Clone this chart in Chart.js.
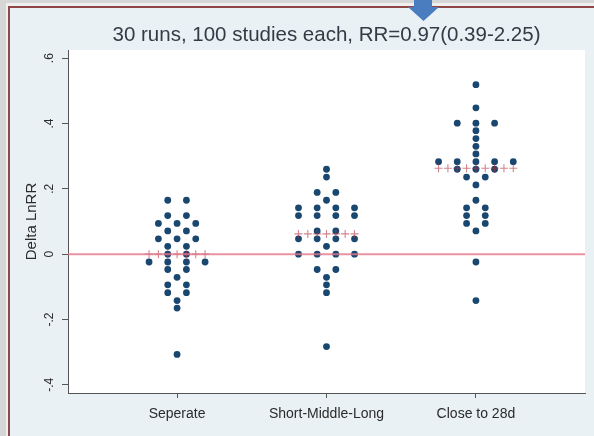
<!DOCTYPE html>
<html>
<head>
<meta charset="utf-8">
<script src="https://cdn.jsdelivr.net/npm/chart.js@4/dist/chart.umd.min.js"></script>
<style>
  html, body { margin: 0; padding: 0; background: #d7d7d7; }
  #wrap { width: 594px; height: 436px; }
</style>
</head>
<body>
<div id="wrap"><canvas id="chart" width="594" height="436"></canvas></div>
<script>
// Values (dots on the same row share a value)
const categories = ['Seperate', 'Short-Middle-Long', 'Close to 28d'];

const seperate = [
  0.165, 0.165, 0.118, 0.118, 0.094, 0.094, 0.094, 0.071, 0.071,
  0.047, 0.047, 0.047, 0.024, 0.024, 0, 0, -0.024, -0.024, -0.024, -0.024,
  -0.047, -0.047, -0.071, -0.094, -0.094, -0.118, -0.118, -0.142, -0.165, -0.307,
];
const shortMiddleLong = [
  0.260, 0.236, 0.189, 0.189, 0.165, 0.142, 0.142, 0.142, 0.142,
  0.118, 0.118, 0.118, 0.118, 0.071, 0.071, 0.047, 0.047, 0.047, 0.047,
  0.024, 0, 0, 0, 0, -0.047, -0.047, -0.071, -0.094, -0.118, -0.283,
];
const closeTo28d = [
  0.519, 0.448, 0.401, 0.401, 0.401, 0.378, 0.354, 0.330, 0.307,
  0.283, 0.283, 0.283, 0.283, 0.283, 0.260, 0.260, 0.260, 0.236, 0.236,
  0.212, 0.165, 0.142, 0.142, 0.118, 0.118, 0.094, 0.094, 0.071, -0.024, -0.142,
];
const groupMeans = [0.0, 0.062, 0.263];

const yTickValues = [-0.4, -0.2, 0, 0.2, 0.4, 0.6];
const chartTitle = '30 runs, 100 studies each, RR=0.97(0.39-2.25)';
const yAxisTitle = 'Delta LnRR';

const groups = [seperate, shortMiddleLong, closeTo28d];
const DOT_STEP = 0.125; // horizontal gap between stacked dots (x units)
const X_MIN = 0.27;
const X_MAX = 3.73;
const FONT = '"Liberation Sans", Arial, Helvetica, sans-serif';

Chart.defaults.font.family = FONT;

// count how many dots share each row
function rowCounts(values) {
  const rows = new Map();
  values.forEach((v) => rows.set(v, (rows.get(v) || 0) + 1));
  return rows;
}

// lay the dots of one group side by side, centred on the category
function stackDots(values, center) {
  const pts = [];
  rowCounts(values).forEach((n, v) => {
    for (let i = 0; i < n; i++) {
      pts.push({ x: center + (i - (n - 1) / 2) * DOT_STEP, y: v });
    }
  });
  return pts;
}

// row of plus signs at the group mean, as wide as the widest row
function meanMarks(values, mean, center) {
  const widest = Math.max(...rowCounts(values).values());
  const half = ((widest - 1) / 2) * DOT_STEP;
  const pts = [];
  for (let dx = -half; dx <= half + 1e-9; dx += DOT_STEP / 2) {
    pts.push({ x: center + dx, y: mean });
  }
  return pts;
}

const dotData = groups.flatMap((g, i) => stackDots(g, i + 1));
const meanData = groups.flatMap((g, i) => meanMarks(g, groupMeans[i], i + 1));

const framePlugin = {
  id: 'frame',
  beforeDraw(chart) {
    const { ctx, width, height, chartArea } = chart;
    ctx.save();
    ctx.fillStyle = '#d6d6d6';
    ctx.fillRect(0, 0, width, height);
    ctx.fillStyle = '#efefef';
    ctx.fillRect(6, 3, width - 6, height - 3);
    ctx.fillStyle = '#8f4646';
    ctx.fillRect(8, 6, width - 8, height - 6);
    ctx.fillStyle = '#e9f1f4';
    ctx.fillRect(10, 8, width - 10, height - 8);
    ctx.fillStyle = '#ffffff';
    ctx.fillRect(chartArea.left, chartArea.top, chartArea.width, chartArea.height);

    ctx.fillStyle = '#333b46';
    ctx.font = '20.5px ' + FONT;
    ctx.textAlign = 'center';
    ctx.textBaseline = 'alphabetic';
    ctx.fillText(chartTitle, (chartArea.left + chartArea.right) / 2, 41);
    ctx.restore();
  },
  afterDraw(chart) {
    // blue slide arrow pointing at the title
    const { ctx } = chart;
    ctx.save();
    ctx.fillStyle = '#4a7dbf';
    ctx.beginPath();
    ctx.moveTo(414, 0);
    ctx.lineTo(432, 0);
    ctx.lineTo(432, 7);
    ctx.lineTo(439, 7);
    ctx.lineTo(423.5, 21);
    ctx.lineTo(408, 7);
    ctx.lineTo(414, 7);
    ctx.closePath();
    ctx.fill();
    ctx.restore();
  },
};

new Chart(document.getElementById('chart'), {
  type: 'scatter',
  data: {
    datasets: [
      {
        type: 'line',
        label: 'zero',
        data: [{ x: X_MIN, y: 0 }, { x: X_MAX, y: 0 }],
        borderColor: 'rgba(226, 120, 140, 0.8)',
        borderWidth: 2,
        pointRadius: 0,
        order: 0,
      },
      {
        label: 'mean',
        data: meanData,
        pointStyle: 'cross',
        pointRadius: 4,
        borderColor: 'rgba(180, 50, 65, 0.6)',
        borderWidth: 1.1,
        order: 1,
      },
      {
        label: 'runs',
        data: dotData,
        pointRadius: 3.4,
        backgroundColor: '#1a476f',
        borderWidth: 0,
        order: 2,
      },
    ],
  },
  options: {
    responsive: false,
    animation: false,
    devicePixelRatio: 1,
    layout: { padding: { left: 10, top: 50, right: 9, bottom: 0 } },
    plugins: {
      legend: { display: false },
      tooltip: { enabled: false },
      title: { display: false },
    },
    scales: {
      x: {
        type: 'linear',
        min: X_MIN,
        max: X_MAX,
        afterBuildTicks: (s) => { s.ticks = categories.map((_, i) => ({ value: i + 1 })); },
        afterFit: (s) => { s.height = 43; },
        grid: { drawOnChartArea: false, drawTicks: true, tickLength: 5, tickColor: '#555', tickWidth: 1 },
        border: { display: true, color: '#555', width: 1 },
        ticks: {
          autoSkip: false,
          maxRotation: 0,
          padding: 8,
          color: '#2b2b2b',
          font: { size: 14 },
          callback: (v) => categories[v - 1],
        },
      },
      y: {
        type: 'linear',
        min: -0.425,
        max: 0.625,
        afterBuildTicks: (s) => { s.ticks = yTickValues.map((value) => ({ value })); },
        afterFit: (s) => { s.width = 58; },
        grid: { drawOnChartArea: false, drawTicks: true, tickLength: 6, tickColor: '#555', tickWidth: 1 },
        border: { display: true, color: '#555', width: 1 },
        ticks: {
          minRotation: 90,
          maxRotation: 90,
          crossAlign: 'center',
          padding: 5,
          color: '#2b2b2b',
          font: { size: 12 },
          callback: (v) => (v === 0 ? '0' : String(v).replace('0.', '.')),
        },
        title: {
          display: true,
          text: yAxisTitle,
          color: '#2b2b2b',
          font: { size: 15 },
          padding: { top: 13, bottom: 0 },
        },
      },
    },
  },
  plugins: [framePlugin],
});
</script>
</body>
</html>
